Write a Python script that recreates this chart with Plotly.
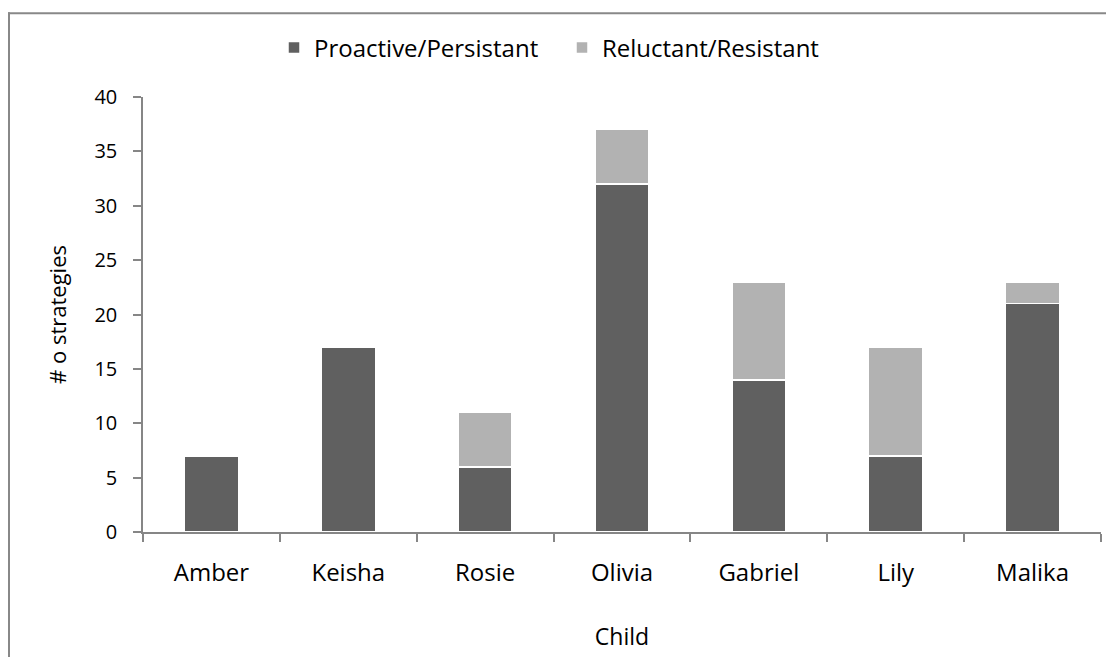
import plotly.graph_objects as go

children = ["Amber", "Keisha", "Rosie", "Olivia", "Gabriel", "Lily", "Malika"]
proactive = [7, 17, 6, 32, 14, 7, 21]
reluctant = [0, 0, 5, 5, 9, 10, 2]
y_ticks = [0, 5, 10, 15, 20, 25, 30, 35, 40]

FONT = "Open Sans"
OFF = 8  # page body margin
W, H = 1114 - OFF, 657 - OFF
# plot area in page pixels
PX0, PX1, PY0, PY1 = 143, 1101, 97, 532
L, R = PX0 - OFF, W - (PX1 - OFF)
T, B = PY0 - OFF, H - (PY1 - OFF)
pw, ph = W - L - R, H - T - B


def px_x(p):
    return (p - OFF - L) / pw


def px_y(p):
    return (H - B - (p - OFF)) / ph


fig = go.Figure()
fig.add_trace(go.Bar(
    x=children, y=proactive, name="Proactive/Persistant",
    marker=dict(color="#606060", line=dict(color="white", width=1.5)),
    width=0.395,
))
fig.add_trace(go.Bar(
    x=children, y=reluctant, name="Reluctant/Resistant",
    marker=dict(color="#b2b2b2", line=dict(color="white", width=1.5)),
    width=0.395,
))

axis_color = "#868686"
fig.update_layout(
    barmode="stack",
    width=W, height=H,
    margin=dict(l=L, r=R, t=T, b=B, autoexpand=False),
    plot_bgcolor="white", paper_bgcolor="white",
    font=dict(family=FONT, size=20, color="black"),
    showlegend=True,
    legend=dict(orientation="h", x=px_x(274), xanchor="left",
                y=px_y(48), yanchor="middle",
                entrywidth=243, entrywidthmode="pixels",
                font=dict(family=FONT, size=24, color="black"),
                traceorder="normal"),
    xaxis=dict(
        title=dict(text="Child", font=dict(size=23), standoff=42),
        showline=True, linecolor=axis_color, linewidth=1.5,
        ticks="outside", ticklen=8, tickcolor=axis_color, tickwidth=1.5,
        tickson="boundaries", showgrid=False, zeroline=False,
        tickfont=dict(size=24), ticklabelstandoff=18,
    ),
    yaxis=dict(
        title=dict(text="# o strategies", font=dict(size=22), standoff=22),
        range=[0, 40], tickvals=y_ticks,
        showline=True, linecolor=axis_color, linewidth=1.5,
        ticks="outside", ticklen=8, tickcolor=axis_color, tickwidth=1.5,
        showgrid=False, zeroline=False,
        tickfont=dict(size=20), ticklabelstandoff=12,
    ),
)

fig.add_shape(type="line", xref="paper", yref="paper",
              x0=px_x(8), x1=px_x(1116), y0=px_y(13.3), y1=px_y(13.3),
              line=dict(color="#888888", width=2))
fig.add_shape(type="line", xref="paper", yref="paper",
              x0=px_x(9), x1=px_x(9), y0=px_y(12.3), y1=px_y(670),
              line=dict(color="#888888", width=2))

fig.write_html("out.html")
